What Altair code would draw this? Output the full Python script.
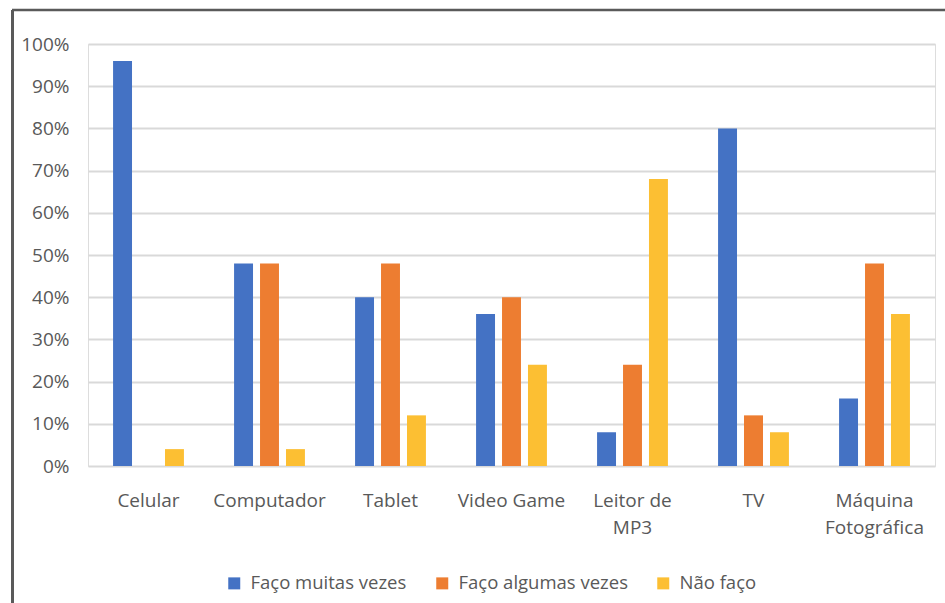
import altair as alt
import pandas as pd

# Survey: how often each device is used for the activity
categories = ["Celular", "Computador", "Tablet", "Video Game",
              "Leitor de\nMP3", "TV", "Máquina\nFotográfica"]
series = ["Faço muitas vezes", "Faço algumas vezes", "Não faço"]
muitas = [96, 48, 40, 36, 8, 80, 16]
algumas = [0, 48, 48, 40, 24, 12, 48]
nao = [4, 4, 12, 24, 68, 8, 36]
colors = ["#4472C4", "#ED7D31", "#FCBF33"]

rows = []
for i, cat in enumerate(categories):
    for s, vals in zip(series, [muitas, algumas, nao]):
        rows.append({"Dispositivo": cat, "Frequência": s, "Valor": vals[i] / 100})
df = pd.DataFrame(rows)

FONT = "Open Sans"
W, H = 847, 422

bars = alt.Chart(df).mark_bar().encode(
    x=alt.X("Dispositivo:N", sort=categories, title=None,
            scale=alt.Scale(paddingInner=0.35, paddingOuter=0.175),
            axis=alt.Axis(labelAngle=0, labelExpr="split(datum.label, '\\n')",
                          labelFont=FONT, labelFontSize=19, labelColor="#595959",
                          labelPadding=34, labelLineHeight=27, labelBaseline="middle",
                          domain=False, ticks=False, grid=False)),
    xOffset=alt.XOffset("Frequência:N", sort=series,
                        scale=alt.Scale(paddingInner=0.27, paddingOuter=0.15)),
    y=alt.Y("Valor:Q", title=None,
            scale=alt.Scale(domain=[0, 1], nice=False),
            axis=alt.Axis(format=".0%", values=[i / 10 for i in range(11)],
                          labelFont=FONT, labelFontSize=19, labelColor="#595959",
                          labelPadding=19, domain=False, ticks=False,
                          gridColor="#D9D9D9", gridWidth=1.8)),
    color=alt.Color("Frequência:N", sort=series,
                    scale=alt.Scale(domain=series, range=colors),
                    legend=alt.Legend(title=None, orient="none", direction="horizontal",
                                      legendX=137, legendY=530,
                                      symbolType="square", symbolSize=144,
                                      symbolStrokeWidth=0, labelFont=FONT,
                                      labelFontSize=18.5, labelColor="#595959",
                                      labelLimit=0, labelOffset=7, columnPadding=26)),
)

# Outer frame lines (top and left edges)
frame_df = pd.DataFrame({"k": [0]})
top_edge = alt.Chart(frame_df).mark_rule(color="#5A5A5A", strokeWidth=2.5).encode(
    x=alt.value(-76), x2=alt.value(W + 20), y=alt.value(-34))
left_edge = alt.Chart(frame_df).mark_rule(color="#5A5A5A", strokeWidth=3).encode(
    x=alt.value(-75.5), y=alt.value(-34), y2=alt.value(H + 160))

chart = alt.layer(bars, top_edge, left_edge).properties(
    width=W, height=H,
    autosize=alt.AutoSizeParams(type="none"),
    padding={"left": 88, "top": 44, "right": 10, "bottom": 137},
).configure_view(stroke=None).configure(background="white")

chart.save("out.html", embed_options={"renderer": "svg", "actions": False})
